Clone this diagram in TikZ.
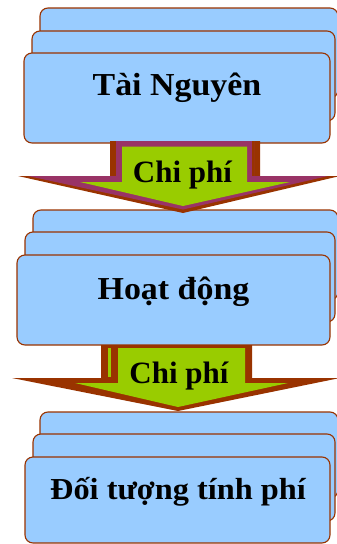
\documentclass[tikz,border=0pt]{standalone}
\usepackage{fontspec}
\setmainfont{Liberation Serif}
\newfontfamily\cardfont[FakeStretch=1.06]{Liberation Serif}
\definecolor{boxblue}{HTML}{99CCFF}
\definecolor{boxbrown}{HTML}{993300}
\definecolor{arrpurple}{HTML}{993366}
\definecolor{arrgreen}{HTML}{99CC00}
\tikzset{
  card/.style={draw=boxbrown, fill=boxblue, line width=1.1pt, rounded corners=8pt},
  cardtext/.style={anchor=base, inner sep=0pt, font=\cardfont\fontsize{32}{36}\selectfont\bfseries},
  arrtext/.style={anchor=base, inner sep=0pt, font=\fontsize{31}{36}\selectfont\bfseries},
}
\begin{document}
\begin{tikzpicture}[x=1pt, y=-1pt]
\useasboundingbox (0,0) rectangle (337,544);
% ---- group 1
\draw[card] (40,8) rectangle (338,98);
\draw[card] (32,31) rectangle (335,121);
\draw[card] (24,53) rectangle (330,143);
\node[cardtext] (t1) at (177,95) {Tài Nguyên};
% ---- group 2
\draw[card] (33,210) rectangle (338,300);
\draw[card] (25,232) rectangle (335,322);
\draw[card] (17,255) rectangle (330,345);
\node[cardtext] (t2) at (173.5,299) {Hoạt động};
% ---- group 3
\draw[card] (40,412) rectangle (338,498);
\draw[card] (33,434) rectangle (335,521);
\draw[card] (25,457) rectangle (330,543);
\node[cardtext, font=\cardfont\fontsize{30.5}{36}\selectfont\bfseries] (t3) at (178,499) {Đối tượng tính phí};
% ---- arrow 1
\fill[boxbrown] (110,141) -- (260,141) -- (260,176) -- (340,176) -- (183,213) -- (18,176) -- (110,176) -- cycle;
\fill[arrpurple] (116,141) -- (254,141) -- (254,176) -- (328,176) -- (183,209.5) -- (28,176) -- (116,176) -- cycle;
\fill[boxbrown] (252,141) rectangle (254,176);
\fill[arrgreen] (122,146.5) -- (247,146.5) -- (247,182) -- (290,182) -- (183,206) -- (80,182) -- (122,182) -- cycle;
\node[arrtext] (c1) at (182.5,182) {Chi phí};
% ---- arrow 2
\fill[boxbrown] (101,345) -- (252,345) -- (252,378) -- (340,378) -- (178,411) -- (12,378) -- (101,378) -- cycle;
\fill[arrgreen] (118,348) -- (245,348) -- (245,383) -- (288,383) -- (178,407) -- (75,383) -- (118,383) -- cycle;
\fill[arrgreen] (108,348) rectangle (111,377);
\node[arrtext] (c2) at (179,383) {Chi phí};
\end{tikzpicture}
\end{document}
